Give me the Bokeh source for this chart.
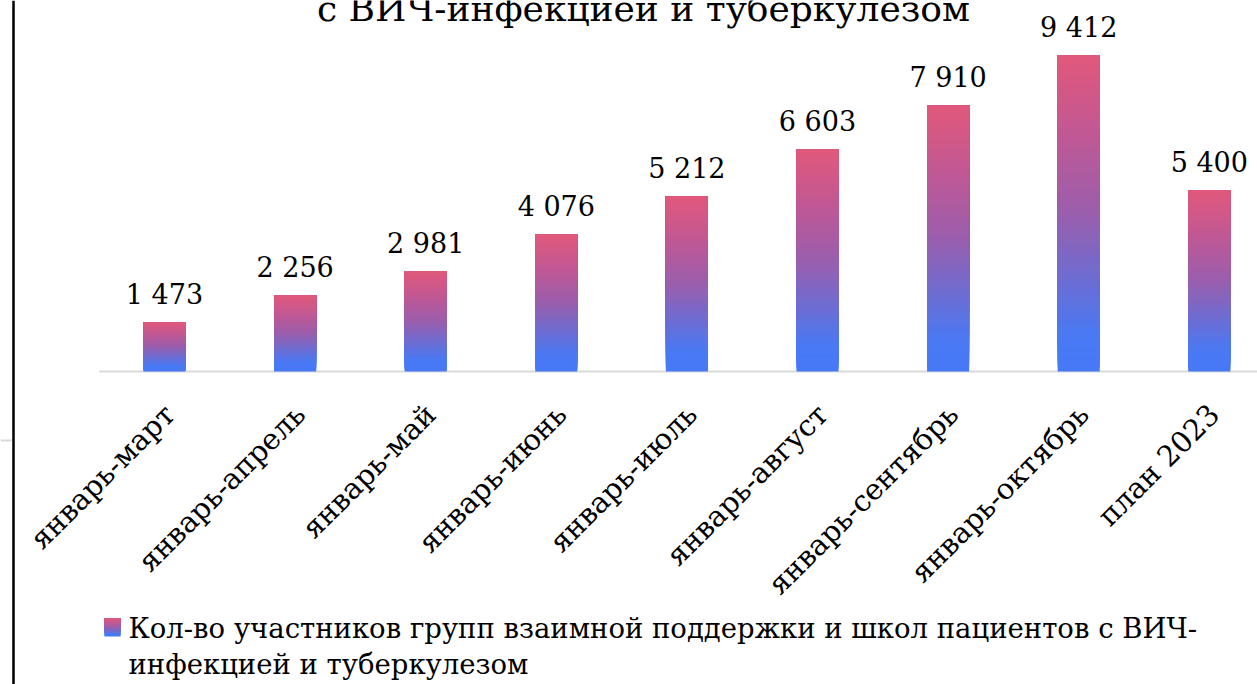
import math
from bokeh.plotting import figure
from bokeh.models import ColumnDataSource, Range1d, Span
from bokeh.core.properties import value
from bokeh.embed import file_html
from bokeh.resources import INLINE

# ---------------- data ----------------
categories = ["январь-март", "январь-апрель", "январь-май", "январь-июнь",
              "январь-июль", "январь-август", "январь-сентябрь",
              "январь-октябрь", "план 2023"]
values = [1473, 2256, 2981, 4076, 5212, 6603, 7910, 9412, 5400]
series_name_line1 = "Кол-во участников групп взаимной поддержки и школ пациентов с ВИЧ-"
series_name_line2 = "инфекцией и туберкулезом"
title_text = "с ВИЧ-инфекцией и туберкулезом"

# ---------------- layout helpers (page pixel -> data) ----------------
W, H = 1257, 684
PAGE_X0, PAGE_Y0 = 0, 0
PITCH = 130.6          # px per category
CAT0_PX = 164          # page x of first category centre
BASE_PX = 371          # page y of zero line
PXU = 0.0336           # px per unit value
TXT_SHIFT = 10         # rendered baseline sits this much below the anchor

def X(px):
    return (px - CAT0_PX) / PITCH

def Y(py):
    return (BASE_PX - py) / PXU

FONT = "DejaVu Serif"

p = figure(width=W, height=H, output_backend="svg", toolbar_location=None,
           x_axis_type=None, y_axis_type=None,
           x_range=Range1d(X(PAGE_X0), X(PAGE_X0 + W)),
           y_range=Range1d(Y(PAGE_Y0 + H), Y(PAGE_Y0)),
           min_border=0, min_border_left=0, min_border_right=0,
           min_border_top=0, min_border_bottom=0,
           outline_line_color=None, background_fill_color="white",
           border_fill_color="white")
p.xgrid.visible = False
p.ygrid.visible = False

# ---------------- gradient colours ----------------
stops = [(0.0, (0x46, 0x79, 0xF8)), (0.12, (0x4A, 0x79, 0xF3)),
         (0.30, (0x6F, 0x6C, 0xD0)), (0.50, (0x9A, 0x5E, 0xAD)),
         (0.75, (0xC1, 0x58, 0x94)), (1.0, (0xE1, 0x58, 0x7B))]

def grad(t):
    for (t0, c0), (t1, c1) in zip(stops[:-1], stops[1:]):
        if t <= t1:
            f = (t - t0) / (t1 - t0) if t1 > t0 else 0
            return "#%02x%02x%02x" % tuple(int(round(a + (b - a) * f)) for a, b in zip(c0, c1))
    return "#%02x%02x%02x" % stops[-1][1]

# each slice goes from its own lower edge up to the bar top; later slices
# paint over earlier ones, so no seams appear between the bands
N = 80
HALF = 0.161
lefts, rights, bottoms, tops, cols = [], [], [], [], []
for k in range(N):
    for i, v in enumerate(values):
        lefts.append(i - HALF)
        rights.append(i + HALF)
        bottoms.append(v * k / N)
        tops.append(v)
        cols.append(grad((k + 0.5) / N))

src = ColumnDataSource(dict(left=lefts, right=rights, bottom=bottoms, top=tops, color=cols))

# zero line
p.segment(x0=[-0.5], y0=[0], x1=[X(PAGE_X0 + W) + 1], y1=[0],
          line_color="#D9D9D9", line_width=2)

p.quad(left="left", right="right", bottom="bottom", top="top",
       fill_color="color", line_color=None, source=src)

# data labels (digits end ~18 px above bar top)
lab_src = ColumnDataSource(dict(x=list(range(len(values))),
                                y=[v + (18 + TXT_SHIFT) / PXU for v in values],
                                t=[f"{v:,}".replace(",", " ") for v in values]))
p.text(x="x", y="y", text="t", source=lab_src, text_align="center",
       text_baseline="alphabetic",
       text_font=value(FONT), text_font_size="27px", text_color="#000000")

# category labels
cat_src = ColumnDataSource(dict(x=list(range(len(categories))),
                                y=[0] * len(categories), t=categories))
p.text(x="x", y="y", text="t", source=cat_src, angle=math.pi / 4,
       text_align="right", text_baseline="middle", x_offset=5, y_offset=38,
       text_font=value(FONT), text_font_size="29px", text_color="#000000")

# title (cut at top of page)
p.text(x=[X(643)], y=[Y(19 - TXT_SHIFT - 1)], text=[title_text], text_align="center",
       text_baseline="alphabetic", text_font=value(FONT),
       text_font_size="36px", text_color="#000000")

# legend (gradient swatch + text)
sw_l, sw_r, sw_t, sw_b = X(104), X(120), Y(618), Y(636)
M = 16
p.quad(left=[sw_l] * M, right=[sw_r] * M,
       bottom=[sw_b + (sw_t - sw_b) * k / M for k in range(M)],
       top=[sw_t] * M,
       fill_color=[grad((k + 0.5) / M) for k in range(M)], line_color=None)
p.text(x=[X(128), X(128)], y=[Y(637 - TXT_SHIFT), Y(673 - TXT_SHIFT)],
       text=[series_name_line1, series_name_line2],
       text_align="left", text_baseline="alphabetic",
       text_font=value(FONT), text_font_size="27.5px", text_color="#000000")

# frame lines at the left
p.add_layout(Span(location=X(13), dimension="height", line_color="black", line_width=2.5))
p.segment(x0=[X(PAGE_X0)], y0=[Y(440)], x1=[X(11)], y1=[Y(440)],
          line_color="#D9D9D9", line_width=2)

open("out.html", "w").write(file_html(p, INLINE))
